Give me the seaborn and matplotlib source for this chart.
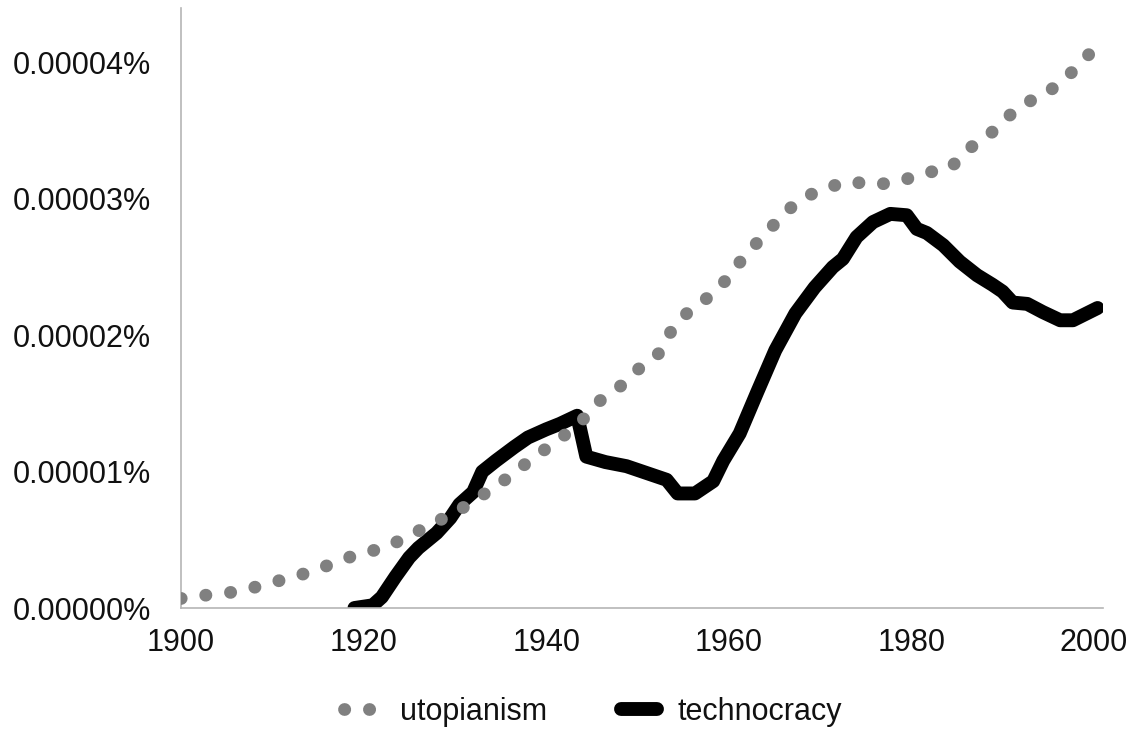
import numpy as np
import pandas as pd
import matplotlib
matplotlib.use("Agg")
import matplotlib.pyplot as plt
import seaborn as sns
from matplotlib.ticker import MultipleLocator, FuncFormatter

# values are in units of 0.00001 %
UNIT = 1e-5

utopianism_years = [1900.0, 1903.4, 1906.2, 1909.1, 1911.8, 1914.5, 1917.1, 1919.6,
                    1922.3, 1925.0, 1927.6, 1930.3, 1932.6, 1934.9, 1937.2, 1939.4,
                    1941.7, 1944.0, 1945.9, 1948.2, 1950.4, 1952.6, 1953.9, 1955.7,
                    1958.2, 1960.2, 1961.9, 1963.9, 1965.7, 1967.9, 1970.6, 1973.3,
                    1975.8, 1978.8, 1981.4, 1984.2, 1986.1, 1988.4, 1990.5, 1992.8,
                    1995.3, 1997.6, 1999.6, 2000.2]
utopianism_vals = [0.07, 0.10, 0.12, 0.17, 0.22, 0.27, 0.34, 0.40,
                   0.44, 0.53, 0.62, 0.71, 0.81, 0.91, 1.03, 1.14,
                   1.25, 1.38, 1.52, 1.63, 1.77, 1.88, 2.06, 2.18,
                   2.30, 2.44, 2.60, 2.73, 2.87, 3.00, 3.08, 3.13,
                   3.10, 3.13, 3.19, 3.22, 3.36, 3.46, 3.60, 3.71,
                   3.80, 3.93, 4.07, 4.10]

technocracy_years = [1919.0, 1921.0, 1922.0, 1923.5, 1925.0, 1926.0, 1928.0, 1929.5,
                     1930.5, 1932.0, 1933.0, 1934.5, 1936.5, 1938.0, 1940.0, 1941.5,
                     1943.4, 1944.4, 1946.5, 1948.8, 1951.0, 1953.2, 1954.4, 1956.3,
                     1958.3, 1959.4, 1961.2, 1963.1, 1965.1, 1967.3, 1969.4, 1971.4,
                     1972.5, 1974.0, 1975.8, 1977.7, 1979.5, 1980.6, 1981.7, 1983.5,
                     1985.3, 1987.2, 1988.9, 1990.0, 1991.1, 1992.7, 1994.4, 1996.3,
                     1997.7, 1999.2, 2000.4]
technocracy_vals = [0.00, 0.02, 0.08, 0.23, 0.37, 0.44, 0.55, 0.66,
                    0.76, 0.85, 1.00, 1.08, 1.18, 1.25, 1.31, 1.35,
                    1.41, 1.11, 1.07, 1.04, 0.99, 0.94, 0.84, 0.84,
                    0.93, 1.08, 1.28, 1.58, 1.89, 2.16, 2.35, 2.50,
                    2.56, 2.72, 2.83, 2.89, 2.88, 2.78, 2.75, 2.66,
                    2.54, 2.44, 2.37, 2.32, 2.24, 2.23, 2.17, 2.11,
                    2.11, 2.16, 2.20]

GRAY_AXIS = "#b5b5b5"
GRAY_DOTS = "#808080"
TEXT = "#111111"
FS = 22

sns.set_style("white")
plt.rcParams['font.family'] = ['Liberation Sans', 'DejaVu Sans']

uto = pd.DataFrame({"year": utopianism_years,
                    "share": np.array(utopianism_vals) * UNIT})
tech = pd.DataFrame({"year": technocracy_years,
                     "share": np.array(technocracy_vals) * UNIT})

fig = plt.figure(figsize=(11.44, 7.3), dpi=100)
ax = fig.add_axes([0.1582, 0.1671, 0.806, 0.822])

sns.lineplot(data=tech, x="year", y="share", ax=ax, color="black", lw=10,
             label="technocracy", zorder=2,
             solid_capstyle="round", solid_joinstyle="round")
# round-capped tiny dashes give the dotted look
sns.lineplot(data=uto, x="year", y="share", ax=ax, color=GRAY_DOTS, lw=9.2,
             label="utopianism", zorder=3,
             linestyle=(0, (0.02, 1.93)), dash_capstyle="round")

ax.set_xlim(1900, 2001)
ax.set_ylim(0, 4.4e-5)
ax.set_xlabel("")
ax.set_ylabel("")

ax.xaxis.set_major_locator(MultipleLocator(20))
ax.xaxis.set_minor_locator(MultipleLocator(10))
ax.yaxis.set_major_locator(MultipleLocator(1e-5))
ax.yaxis.set_major_formatter(FuncFormatter(lambda v, _: f"{v:.5f}%"))

ax.tick_params(axis="x", which="both", length=7.5, width=1.1, color=GRAY_AXIS,
               pad=7, labelsize=FS, labelcolor=TEXT, direction="out")
ax.tick_params(axis="y", length=5.8, width=1.1, color=GRAY_AXIS,
               pad=16, labelsize=FS, labelcolor=TEXT, direction="out")

for side in ["top", "right"]:
    ax.spines[side].set_visible(False)
for side in ["left", "bottom"]:
    ax.spines[side].set_color(GRAY_AXIS)
    ax.spines[side].set_linewidth(1.2)

handles, labels = ax.get_legend_handles_labels()
ax.get_legend().remove()
order = [labels.index("utopianism"), labels.index("technocracy")]
fig.legend([handles[i] for i in order], [labels[i] for i in order],
           loc="center", bbox_to_anchor=(0.518, 0.025), ncol=2, frameon=False,
           fontsize=FS, handlelength=1.2, handletextpad=0.65,
           columnspacing=2.4, borderpad=0, labelcolor=TEXT)

fig.savefig("out.png", dpi=100)
